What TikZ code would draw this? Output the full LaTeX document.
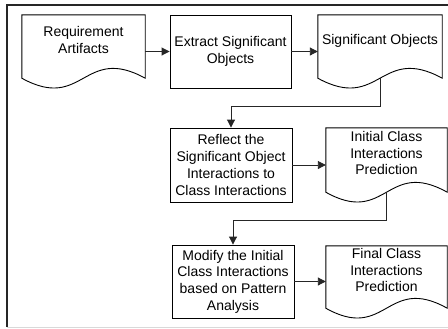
\documentclass[tikz,border=0pt]{standalone}
\usepackage{fontspec}
\setmainfont{Liberation Sans}
\usetikzlibrary{arrows.meta,calc}
\newcommand\dtext[1]{\raisebox{6.5bp}[0pt][0pt]{\begin{tabular}{@{}c@{}}#1\end{tabular}}}
\newcommand\docoutline[1]{%
  \draw[docline] let \p1=(#1.north west), \p2=(#1.south east) in
    (\x1,\y1) -- (\x2,\y1) -- (\x2,{\y2+10bp})
    .. controls ({(\x1+\x2)/2},{\y2+10bp+34bp}) and ({(\x1+\x2)/2},{\y2+10bp-34bp}) ..
    (\x1,{\y2+10bp}) -- cycle;}
\begin{document}
\begin{tikzpicture}[x=1bp,y=-1bp,
  every node/.style={font=\fontsize{14bp}{16.7bp}\selectfont, inner sep=0pt},
  procbox/.style={draw=black, line width=0.9bp, align=center},
  docnode/.style={align=center},
  docline/.style={draw=black, line width=0.9bp},
  arr/.style={draw=black!85, line width=0.9bp, -{Triangle[length=8bp,width=8bp]}},
  frame/.style={draw=black!85, line width=1.5bp}]
\useasboundingbox (0,0) rectangle (448,328);
\draw[frame] (7,327) -- (7,5) -- (448,5);
\draw[draw=black!15, line width=1bp] (7,327) -- (448,327);
% documents
\node[docnode, minimum width=123bp, minimum height=73bp] (ra) at (83.5,51.5) {\dtext{Requirement\\Artifacts}};
\node[docnode, minimum width=124bp, minimum height=73bp] (so) at (380,51.5) {\dtext{Significant Objects}};
\node[docnode, minimum width=121bp, minimum height=74bp] (io) at (386.5,165) {\dtext{Initial Class\\Interactions\\Prediction}};
\node[docnode, minimum width=121bp, minimum height=72bp] (fc) at (386.5,282) {\dtext{Final Class\\Interactions\\Prediction}};
\docoutline{ra}
\docoutline{so}
\docoutline{io}
\docoutline{fc}
% processes
\node[procbox, minimum width=121bp, minimum height=73bp] (ex) at (230.5,51.5) {Extract Significant\\Objects};
\node[procbox, minimum width=122bp, minimum height=74bp] (rf) at (231,165) {Reflect the\\Significant Object\\Interactions to\\Class Interactions};
\node[procbox, minimum width=122bp, minimum height=73bp] (md) at (233,281.5) {Modify the Initial\\Class Interactions\\based on Pattern\\Analysis};
% wave midpoints
\coordinate (sob) at ($(so.south)+(0,-10)$);
\coordinate (iob) at ($(io.south)+(0,-10)$);
% connectors
\draw[arr] (ra.east) -- (ex.west);
\draw[arr] (ex.east) -- (ex.east -| so.west);
\draw[arr] (sob) -- ++(0,28) -| (rf.north);
\draw[arr] (rf.east) -- (rf.east -| io.west);
\draw[arr] (iob) -- ++(0,28) -| (md.north);
\draw[arr] (md.east) -- (md.east -| fc.west);
\end{tikzpicture}
\end{document}
